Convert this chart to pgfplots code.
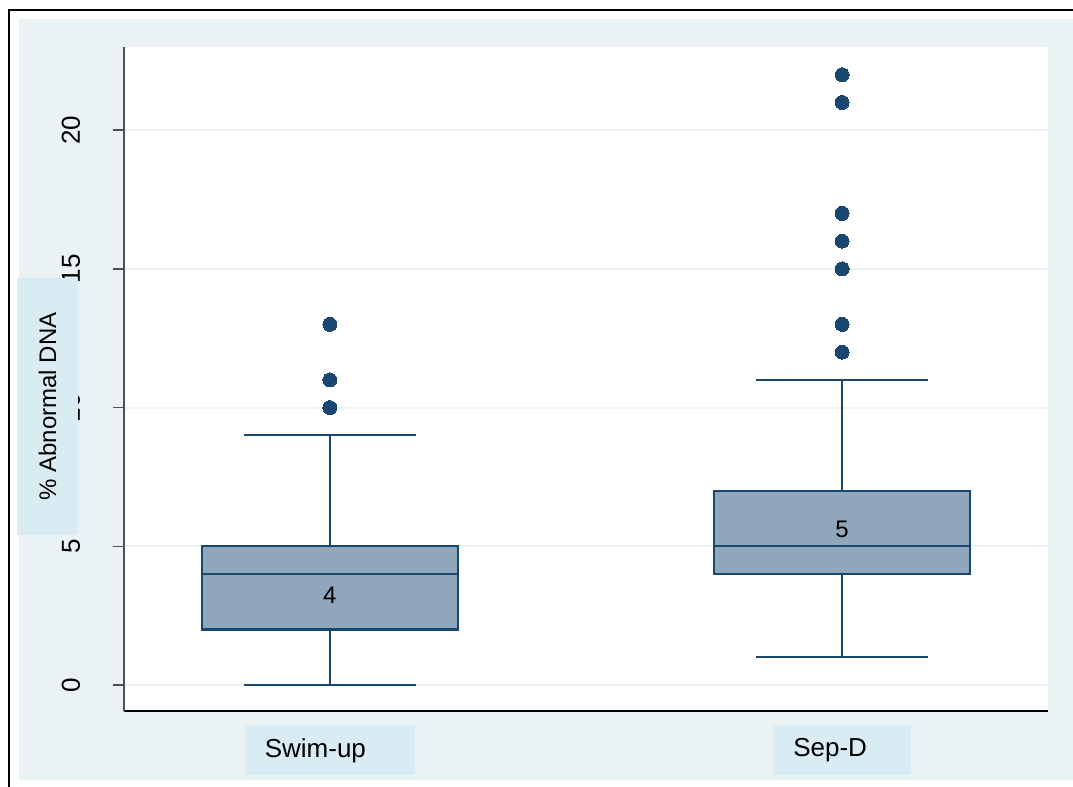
\documentclass[border=0pt]{standalone}
\usepackage{pgfplots}
\pgfplotsset{compat=1.18}
\usepgfplotslibrary{statistics}
\usepackage{fontspec}
\setmainfont{Liberation Sans}
\definecolor{bgc}{RGB}{234,242,243}
\definecolor{lblbg}{RGB}{218,236,243}
\definecolor{boxfill}{RGB}{144,166,186}
\definecolor{navy}{RGB}{26,71,111}
\definecolor{axgray}{RGB}{80,80,80}
\begin{document}
\begin{tikzpicture}
\path[use as bounding box, fill=white] (0,0) rectangle (536.5pt,393.5pt);
\fill[bgc] (9.5pt,3.5pt) rectangle (536.5pt,384pt);
\draw[black, line width=1.25pt] (4.5pt,0pt) -- (4.5pt,388.5pt) -- (536.5pt,388.5pt);
\begin{axis}[
  at={(62pt,38pt)}, anchor=south west,
  scale only axis, width=462pt, height=332pt,
  xmin=0.598, xmax=2.402, ymin=-0.937, ymax=23,
  axis background/.style={fill=white},
  axis x line*=bottom, axis y line*=left,
  x axis line style={black, line width=0.8pt, -},
  y axis line style={axgray, line width=0.8pt, -},
  boxplot/draw direction=y,
  ytick={0,5,10,15,20},
  ytick align=outside,
  major tick length=5.5pt,
  ytick style={axgray, line width=0.8pt},
  xtick={1,2},
  xticklabels={Swim-up\kern14.5pt, Sep-D\kern12pt},
  xtick style={draw=none},
  ymajorgrids,
  grid style={bgc, line width=1pt},
  /pgf/number format/assume math mode=true,
  yticklabel style={xshift=-16.5pt, rotate=90, anchor=base, inner sep=0pt, font=\fontsize{13}{15}\selectfont},
  xticklabel style={fill=lblbg, anchor=north, inner xsep=10pt, minimum height=25pt, yshift=-7pt, font=\fontsize{13}{15}\selectfont},
  ylabel={\% Abnormal DNA},
  ylabel style={at={(axis description cs:-0.0828,0.4586)}, anchor=center, fill=lblbg, inner xsep=17pt, minimum height=30.5pt, font=\fontsize{12}{14}\selectfont},
  clip=false,
]
\addplot[boxplot prepared={lower whisker=0, lower quartile=2, median=4, upper quartile=5, upper whisker=9, draw position=1, box extend=0.499, whisker extend=0.336}, draw=navy, fill=boxfill, line width=1.1pt, solid] coordinates {};
\addplot[boxplot prepared={lower whisker=1, lower quartile=4, median=5, upper quartile=7, upper whisker=11, draw position=2, box extend=0.499, whisker extend=0.336}, draw=navy, fill=boxfill, line width=1.1pt, solid] coordinates {};
\addplot[only marks, mark=*, mark size=3.5pt, mark options={fill=navy, draw=navy, line width=0pt}] coordinates {(1,10) (1,11) (1,13) (2,12) (2,13) (2,15) (2,16) (2,17) (2,21) (2,22)};
\node[font=\fontsize{12}{14}\selectfont] at (axis cs:1,3.25) {4};
\node[font=\fontsize{12}{14}\selectfont] at (axis cs:2,5.6) {5};
\end{axis}
\end{tikzpicture}
\end{document}
